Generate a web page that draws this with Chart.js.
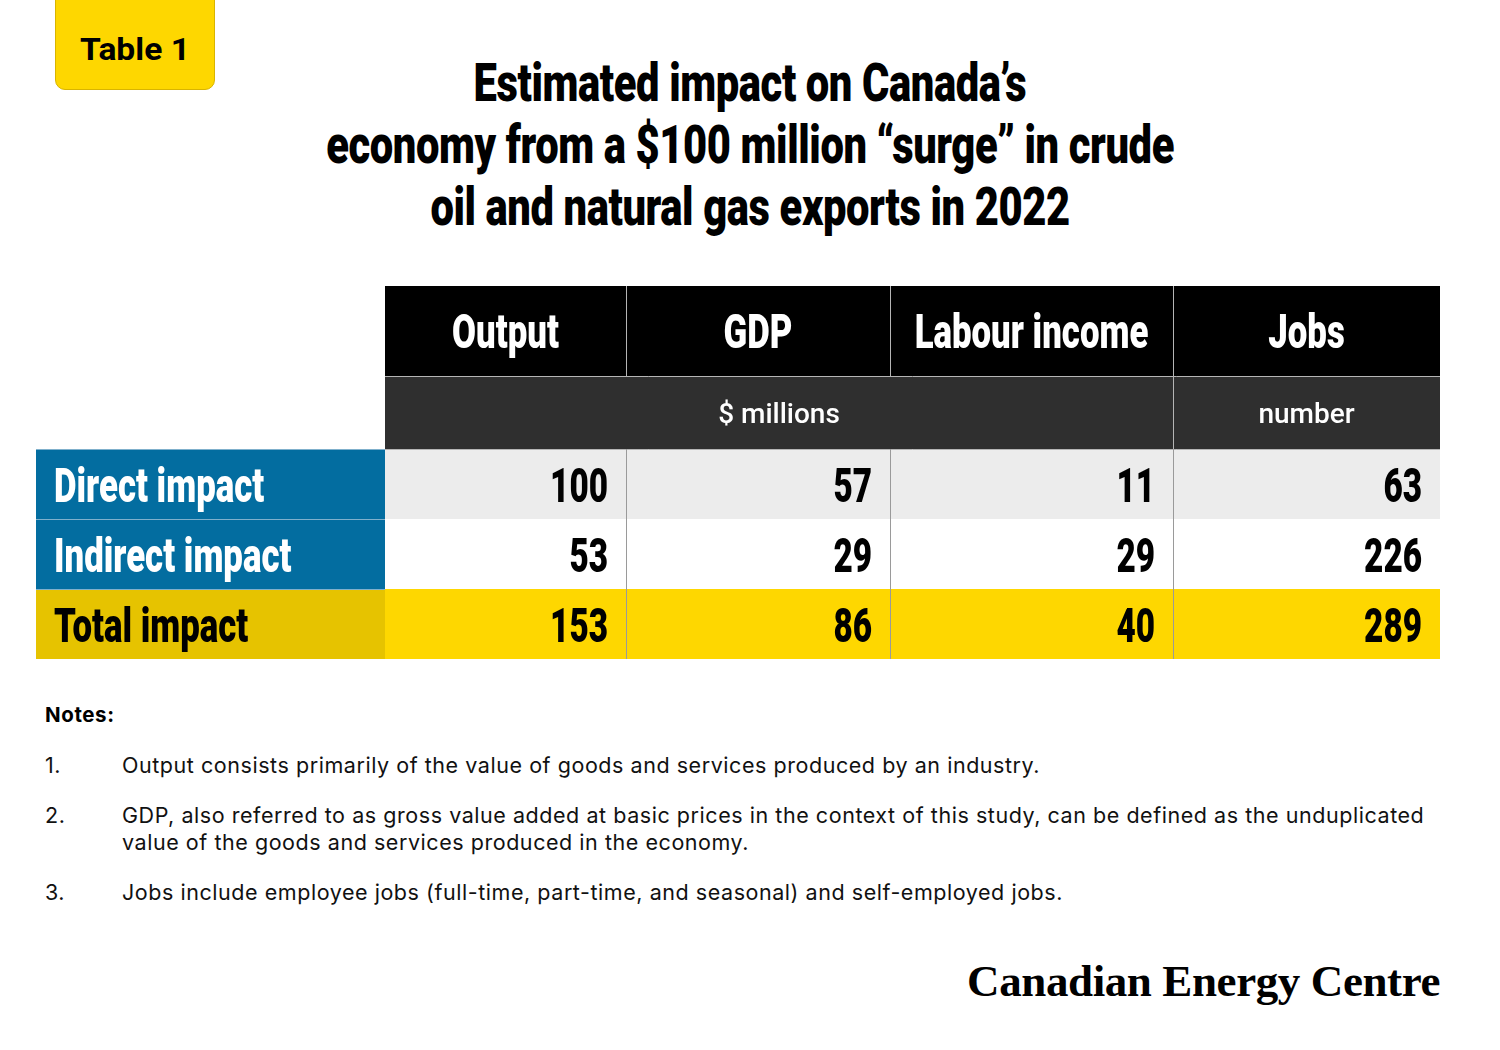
<!DOCTYPE html>
<html>
<head>
<meta charset="utf-8">
<script src="https://cdn.jsdelivr.net/npm/chart.js@4.4.1/dist/chart.umd.min.js"></script>
<style>
  html, body { margin: 0; padding: 0; background: #fff; }
  body { width: 1500px; height: 1050px; position: relative; overflow: hidden; font-family: Roboto, "Liberation Sans", sans-serif; color: #000; }
  #badge { position: absolute; left: 55px; top: -12px; width: 160px; height: 102px; background: #fed700; border: 1px solid #d9b400; border-radius: 10px; box-sizing: border-box; }
  #badge span { position: absolute; left: 0; right: 0; top: 40px; text-align: center; font-weight: 700; font-size: 32px; line-height: 40px; display: block; transform: scaleX(1.05); }
  .tline { position: absolute; left: 0; width: 1500px; text-align: center; font-weight: 900; font-size: 54px; line-height: 62px; }
  .tline span { display: inline-block; transform: scaleX(0.772); transform-origin: 50% 50%; white-space: nowrap; letter-spacing: -0.5px; }
  #tableWrap { position: absolute; left: 36px; top: 286px; width: 1404px; height: 374px; }
  #notes { position: absolute; left: 45px; top: 700px; width: 1420px; font-family: Inter, Roboto, sans-serif; font-size: 21.5px; letter-spacing: 0.55px; color: #111; }
  #notes .hd { position: absolute; left: 0; top: 2px; font-weight: 700; font-size: 20.5px; letter-spacing: 0.6px; color: #000; }
  .note { position: absolute; left: 0; width: 1400px; line-height: 27px; }
  .note .n { position: absolute; left: 0; }
  .note .t { position: absolute; left: 77px; width: 1312px; }
  #logo { position: absolute; right: 60px; top: 955px; font-family: "Liberation Serif", "DejaVu Serif", serif; font-weight: 700; font-size: 45px; letter-spacing: -0.4px; white-space: nowrap; }
</style>
</head>
<body>
<div id="badge"><span>Table 1</span></div>
<div class="tline" style="top:52px"><span>Estimated impact on Canada’s</span></div>
<div class="tline" style="top:114px"><span>economy from a $100 million “surge” in crude</span></div>
<div class="tline" style="top:176px"><span>oil and natural gas exports in 2022</span></div>

<div id="tableWrap"><canvas id="tbl" width="1404" height="374"></canvas></div>

<div id="notes">
  <div class="hd">Notes:</div>
  <div class="note" style="top:52px"><span class="n">1.</span><span class="t">Output consists primarily of the value of goods and services produced by an industry.</span></div>
  <div class="note" style="top:102px"><span class="n">2.</span><span class="t">GDP, also referred to as gross value added at basic prices in the context of this study, can be defined as the unduplicated value of the goods and services produced in the economy.</span></div>
  <div class="note" style="top:179px"><span class="n">3.</span><span class="t">Jobs include employee jobs (full-time, part-time, and seasonal) and self-employed jobs.</span></div>
</div>

<div id="logo">Canadian Energy Centre</div>

<script>
// ---- data ----
const columns = ["Output", "GDP", "Labour income", "Jobs"];
const unitGroups = ["$ millions", "number"];
const unitSpans = [3, 1];
const rowLabels = ["Direct impact", "Indirect impact", "Total impact"];
const outputValues = [100, 53, 153];
const gdpValues = [57, 29, 86];
const labourIncomeValues = [11, 29, 40];
const jobsValues = [63, 226, 289];

// ---- layout (table coordinates, px) ----
const layout = {
  colEdges: [0, 349, 590, 854, 1137, 1404],
  rowEdges: [0, 90, 163, 233, 303, 373],
  width: 1404, height: 374
};
const style = {
  header: "#000000", sub: "#2f2f2f", label: "#036da0", totalLabel: "#e6c300",
  rowBg: ["#ececec", "#ffffff", "#fed700"], grid: "#9a9a9a", headGrid: "#b5b5b5"
};

const series = [outputValues, gdpValues, labourIncomeValues, jobsValues];

function condText(ctx, text, x, y, align, font, sx, color) {
  ctx.save();
  ctx.font = font;
  ctx.fillStyle = color;
  ctx.textBaseline = "alphabetic";
  const w = ctx.measureText(text).width * sx;
  let left = x;
  if (align === "center") left = x - w / 2;
  else if (align === "right") left = x - w;
  ctx.translate(left, y);
  ctx.scale(sx, 1);
  ctx.textAlign = "left";
  ctx.fillText(text, 0, 0);
  ctx.restore();
}

const tablePlugin = {
  id: "tablePlugin",
  afterDraw(chart) {
    const ctx = chart.ctx;
    const xs = chart.scales.x, ys = chart.scales.y;
    const X = v => xs.getPixelForValue(v);
    const Y = v => ys.getPixelForValue(v);
    const ce = layout.colEdges, re = layout.rowEdges;
    const condFont = "900 49px Roboto";
    const SXT = 0.71, SXN = 0.68;

    ctx.fillStyle = style.header;
    ctx.fillRect(X(ce[1]), Y(re[0]), X(ce[5]) - X(ce[1]), Y(re[1]) - Y(re[0]));
    ctx.fillStyle = style.sub;
    ctx.fillRect(X(ce[1]), Y(re[1]), X(ce[5]) - X(ce[1]), Y(re[2]) - Y(re[1]));

    rowLabels.forEach((lab, r) => {
      const y0 = Y(re[r + 2]), y1 = Y(re[r + 3]);
      ctx.fillStyle = style.rowBg[r];
      ctx.fillRect(X(ce[1]), y0, X(ce[5]) - X(ce[1]), y1 - y0);
      ctx.fillStyle = r === rowLabels.length - 1 ? style.totalLabel : style.label;
      ctx.fillRect(X(ce[0]), y0, X(ce[1]) - X(ce[0]), y1 - y0);
    });

    ctx.lineWidth = 1;
    ctx.strokeStyle = style.headGrid;
    [2, 3, 4].forEach(c => {
      ctx.beginPath(); ctx.moveTo(X(ce[c]) + 0.5, Y(re[0])); ctx.lineTo(X(ce[c]) + 0.5, Y(re[1])); ctx.stroke();
    });
    let cIdx = 1;
    unitSpans.forEach((sp, i) => {
      cIdx += sp;
      if (i < unitSpans.length - 1) {
        ctx.beginPath(); ctx.moveTo(X(ce[cIdx]) + 0.5, Y(re[1])); ctx.lineTo(X(ce[cIdx]) + 0.5, Y(re[2])); ctx.stroke();
      }
    });
    [1, 2].forEach(r => {
      ctx.beginPath(); ctx.moveTo(X(ce[1]), Y(re[r]) + 0.5); ctx.lineTo(X(ce[5]), Y(re[r]) + 0.5); ctx.stroke();
    });
    ctx.strokeStyle = "#7fb0cc";
    [2, 3, 4].forEach(r => {
      ctx.beginPath(); ctx.moveTo(X(ce[0]), Y(re[r]) + 0.5); ctx.lineTo(X(ce[1]), Y(re[r]) + 0.5); ctx.stroke();
    });
    ctx.strokeStyle = style.grid;
    [2, 3, 4].forEach(c => {
      ctx.beginPath(); ctx.moveTo(X(ce[c]) + 0.5, Y(re[2])); ctx.lineTo(X(ce[c]) + 0.5, Y(re[5])); ctx.stroke();
    });

    columns.forEach((col, c) => {
      const cx = (X(ce[c + 1]) + X(ce[c + 2])) / 2;
      condText(ctx, col, cx, Y(re[0]) + 62, "center", condFont, SXT, "#fff");
    });
    let start = 1;
    unitGroups.forEach((u, i) => {
      const end = start + unitSpans[i];
      const cx = (X(ce[start]) + X(ce[end])) / 2;
      condText(ctx, u, cx, Y(re[1]) + 47, "center", "500 28px Roboto", 1, "#fff");
      start = end;
    });
    rowLabels.forEach((lab, r) => {
      const base = Y(re[r + 2]) + 53;
      const last = r === rowLabels.length - 1;
      condText(ctx, lab, X(ce[0]) + 18, base, "left", condFont, SXT, last ? "#000" : "#fff");
      series.forEach((vals, c) => {
        condText(ctx, String(vals[r]), X(ce[c + 2]) - 18, base, "right", condFont, SXN, "#000");
      });
    });
  }
};

new Chart(document.getElementById("tbl"), {
  type: "scatter",
  data: { labels: rowLabels, datasets: [] },
  options: {
    responsive: false,
    animation: false,
    devicePixelRatio: 1,
    layout: { padding: 0 },
    plugins: { legend: { display: false }, tooltip: { enabled: false } },
    scales: {
      x: { type: "linear", display: false, offset: false, min: 0, max: layout.width },
      y: { type: "linear", display: false, offset: false, min: 0, max: layout.height, reverse: true }
    }
  },
  plugins: [tablePlugin]
});
</script>
</body>
</html>
